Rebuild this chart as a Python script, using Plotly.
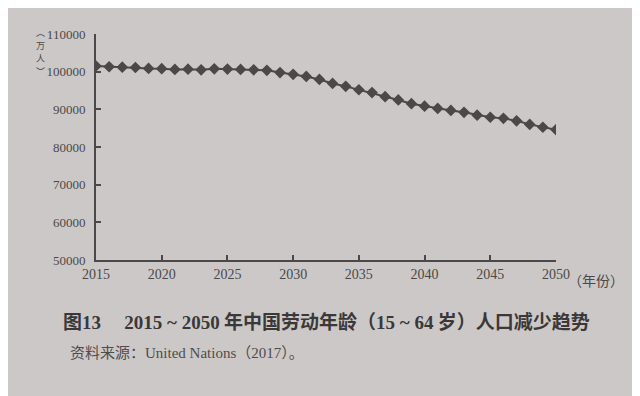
import plotly.graph_objects as go

years = list(range(2015, 2051))
population = [101500, 101300, 101200, 101100, 100850, 100800, 100600, 100650, 100500, 100750,
              100700, 100600, 100500, 100350, 99770, 99300, 98740, 97930, 96880, 96100,
              95200, 94450, 93350, 92500, 91500, 90850, 90250, 89700, 89200, 88450,
              87900, 87600, 86950, 86000, 85250, 84600]
x_ticks = [2015, 2020, 2025, 2030, 2035, 2040, 2045, 2050]
y_ticks = [50000, 60000, 70000, 80000, 90000, 100000, 110000]

serif = "Liberation Serif, DejaVu Serif, serif"
cjk = "Noto Sans CJK SC, Noto Sans CJK JP, sans-serif"

def sf(t):
    return '<span style="font-family:Liberation Serif">' + t + '</span>'

title_text = ("<b>图" + sf("13") + "　 " + sf("2015 ~ 2050") + " 年中国劳动年龄（"
              + sf("15 ~ 64") + " 岁）人口减少趋势</b>")
source_text = "资料来源：" + sf("United Nations") + "（" + sf("2017") + "）。"
y_unit_chars = ["︵", "万", "人", "︶"]
x_unit = "（年份）"

bg = "#ccc8c7"
ink = "#4a4848"

fig = go.Figure()
fig.add_trace(go.Scatter(
    x=years, y=population, mode="lines+markers",
    line=dict(color=ink, width=2),
    marker=dict(symbol="diamond", size=9, color=ink),
    showlegend=False,
))

annotations = [
    dict(text=title_text, xref="paper", yref="paper", x=0.5, y=-0.31,
         xanchor="center", yanchor="middle", showarrow=False,
         font=dict(family=cjk, size=19, color="#3a3838"),
         xshift=0, yshift=10),
    dict(text=source_text, xref="paper", yref="paper", x=-0.06, y=-0.442,
         xanchor="left", yanchor="middle", showarrow=False,
         font=dict(family=cjk, size=15, color="#4e4c4c"), yshift=8),
    dict(text=x_unit, xref="paper", yref="paper", x=1.0, y=-0.089,
         xanchor="left", yanchor="middle", showarrow=False,
         font=dict(family=cjk, size=14, color=ink), xshift=10),
]
for i, ch in enumerate(y_unit_chars):
    annotations.append(dict(
        text=ch, xref="paper", yref="paper", x=-0.12, y=1.0,
        xanchor="center", yanchor="middle", showarrow=False,
        font=dict(family=cjk, size=9, color=ink), yshift=2 - 13 * i))

fig.update_layout(
    width=640, height=396,
    margin=dict(l=88, r=92, t=26, b=144),
    paper_bgcolor=bg, plot_bgcolor=bg,
    font=dict(family=serif, color=ink, size=13),
    xaxis=dict(range=[2015, 2050], tickvals=x_ticks, ticktext=[str(v) for v in x_ticks],
               showgrid=False, zeroline=False, showline=True, linecolor=ink, linewidth=2,
               ticks="inside", ticklen=5, tickcolor=ink, tickwidth=1.5,
               tickfont=dict(family=serif, size=14, color=ink)),
    yaxis=dict(range=[50000, 110000], tickvals=y_ticks, ticktext=[str(v) for v in y_ticks],
               showgrid=False, zeroline=False, showline=True, linecolor=ink, linewidth=2,
               ticks="inside", ticklen=5, tickcolor=ink, tickwidth=1.5,
               ticklabelstandoff=6,
               tickfont=dict(family=serif, size=13, color=ink)),
    annotations=annotations,
)

fig.write_html("out.html")
